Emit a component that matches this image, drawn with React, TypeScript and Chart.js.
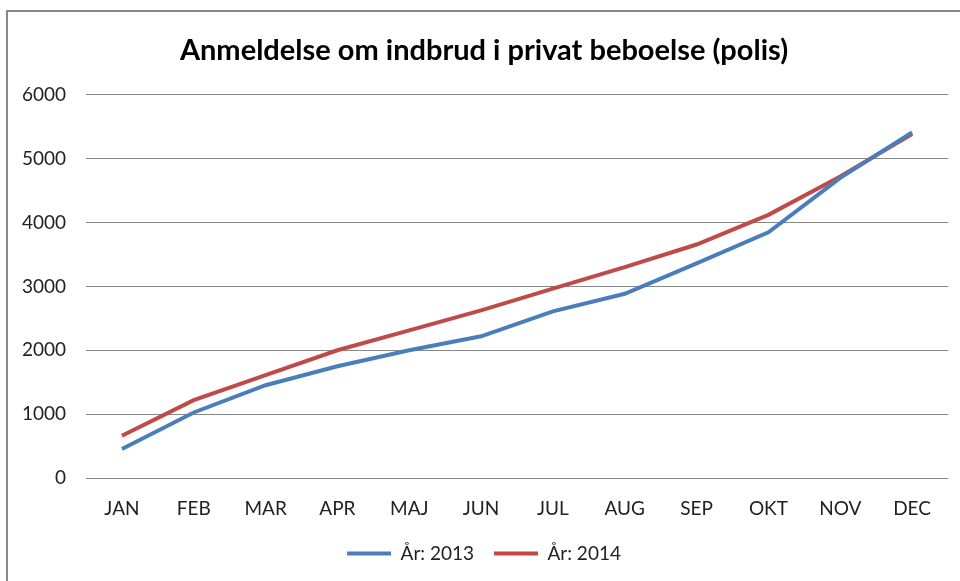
import React, { useEffect, useRef } from "react";
import { Chart, registerables } from "chart.js";

Chart.register(...registerables);

const months = ["JAN", "FEB", "MAR", "APR", "MAJ", "JUN", "JUL", "AUG", "SEP", "OKT", "NOV", "DEC"];
const values2013 = [453, 1026, 1453, 1750, 2000, 2219, 2609, 2885, 3360, 3848, 4700, 5411];
const values2014 = [661, 1219, 1610, 2000, 2312, 2625, 2964, 3302, 3656, 4120, 4720, 5386];
const label2013 = "År: 2013";
const label2014 = "År: 2014";
const titleText = "Anmeldelse om indbrud i privat beboelse (polis)";

export default function App() {
  const ref = useRef<HTMLCanvasElement | null>(null);
  useEffect(() => {
    if (!ref.current) return;
    const chart = new Chart(ref.current, {
      type: "line",
      data: {
        labels: months,
        datasets: [
          { label: label2013, data: values2013, borderColor: "#4a7ebb", backgroundColor: "#4a7ebb", borderWidth: 4, pointRadius: 0, tension: 0 },
          { label: label2014, data: values2014, borderColor: "#be4b48", backgroundColor: "#be4b48", borderWidth: 4, pointRadius: 0, tension: 0 },
        ],
      },
      options: {
        animation: false,
        responsive: false,
        layout: { padding: { left: 20, right: 12, top: 0, bottom: 8 } },
        plugins: {
          title: {
            display: true,
            text: titleText,
            color: "#000",
            font: { family: "Lato", size: 29, weight: "bold" },
            padding: { top: 33, bottom: 27 },
          },
          legend: {
            position: "bottom",
            labels: {
              usePointStyle: true,
              pointStyle: "line",
              pointStyleWidth: 44,
              boxHeight: 4,
              color: "#222",
              font: { family: "Lato", size: 19 },
              padding: 20,
            },
          },
          tooltip: { enabled: false },
        },
        scales: {
          x: {
            offset: true,
            grid: { display: false, drawTicks: false, offset: true },
            border: { display: false },
            ticks: { color: "#222", font: { family: "Lato", size: 19 }, padding: 19 },
            afterFit: (scale: any) => {
              scale.height = 46;
            },
          },
          y: {
            min: 0,
            max: 6000,
            grid: { color: "#888", lineWidth: 1, drawTicks: false },
            border: { display: false },
            ticks: {
              stepSize: 1000,
              color: "#222",
              font: { family: "Lato", size: 19 },
              padding: 20,
              callback: (v: any) => String(v),
            },
            afterFit: (scale: any) => {
              scale.width = 66;
            },
          },
        },
      },
    });
    return () => chart.destroy();
  }, []);
  return (
    <div style={{ position: "fixed", left: 0, top: 0, width: 960, height: 581, background: "#fff" }}>
      <div style={{ position: "absolute", left: 6, top: 10, right: 0, bottom: 0, borderTop: "2px solid #888", borderLeft: "2px solid #888" }} />
      <canvas ref={ref} width={960} height={581} style={{ position: "absolute", left: 0, top: 0 }} />
    </div>
  );
}
